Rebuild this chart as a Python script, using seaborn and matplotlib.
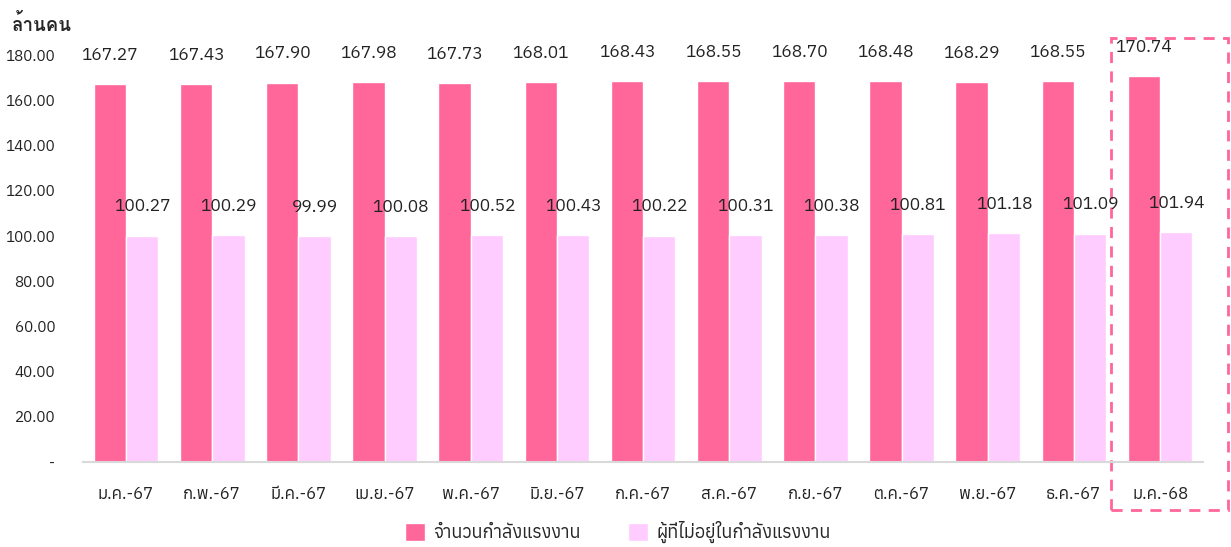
import matplotlib
matplotlib.use("Agg")
import matplotlib.pyplot as plt
import matplotlib.font_manager as fm
from matplotlib.patches import Rectangle, Patch
import pandas as pd
import seaborn as sns

months = ["ม.ค.-67", "ก.พ.-67", "มี.ค.-67", "เม.ย.-67", "พ.ค.-67", "มิ.ย.-67", "ก.ค.-67",
          "ส.ค.-67", "ก.ย.-67", "ต.ค.-67", "พ.ย.-67", "ธ.ค.-67", "ม.ค.-68"]
labour_force = [167.27, 167.43, 167.90, 167.98, 167.73, 168.01, 168.43,
                168.55, 168.70, 168.48, 168.29, 168.55, 170.74]
not_in_labour = [100.27, 100.29, 99.99, 100.08, 100.52, 100.43, 100.22,
                 100.31, 100.38, 100.81, 101.18, 101.09, 101.94]
series_names = ["จำนวนกำลังแรงงาน", "ผู้ที่ไม่อยู่ในกำลังแรงงาน"]
colors = ["#FF6699", "#FFCCFF"]

# look for fonts that have thai glyphs (and a bold one for the title)
thai_fonts = []
thai_bold = []
for f in fm.fontManager.ttflist:
    try:
        font = matplotlib.ft2font.FT2Font(f.fname)
        if 0x0E25 in font.get_charmap():
            thai_fonts.append(f.name)
            w = f.weight if isinstance(f.weight, int) else 400
            if w >= 600:
                thai_bold.append(f.name)
    except Exception:
        pass
thai_fonts = sorted(set(thai_fonts))

sns.set_style("white")
plt.rcParams["font.family"] = thai_fonts[:1] + ["DejaVu Sans"]

data = pd.DataFrame({
    "month": months * 2,
    "value": labour_force + not_in_labour,
    "series": [series_names[0]] * len(months) + [series_names[1]] * len(months),
})

fig = plt.figure(figsize=(12.31, 5.47), dpi=100)
ax = fig.add_axes([0.0674, 0.155, 0.910, 0.744])
sns.barplot(data=data, x="month", y="value", hue="series", palette=colors,
            width=0.75, ax=ax, legend=False, saturation=1)

for cont in ax.containers:
    for bar in cont:
        h = bar.get_height()
        ax.annotate(f"{h:.2f}", (bar.get_x() + bar.get_width() / 2, h),
                    xytext=(0, 21), textcoords="offset points", ha="center",
                    va="center", fontsize=12.5, color="#222222", annotation_clip=False)

ax.set_ylim(0, 180)
ax.set_xlim(-0.5, len(months) - 0.5)
ax.set_yticks(range(0, 181, 20))
ax.set_yticklabels(["-"] + [f"{v:.2f}" for v in range(20, 181, 20)], fontsize=11, color="#222222")
ax.tick_params(axis="y", length=0, pad=20)
ax.set_xticks(range(len(months)))
ax.set_xticklabels(months, fontsize=12, color="#222222")
ax.set_xticks([i - 0.5 for i in range(len(months) + 1)], minor=True)
ax.tick_params(axis="x", which="major", length=0, pad=17)
ax.tick_params(axis="x", which="minor", length=7, color="#D9D9D9", width=1.5)
ax.set_xlabel("")
ax.set_ylabel("")
for s in ["top", "right", "left"]:
    ax.spines[s].set_visible(False)
ax.spines["bottom"].set_color("#D9D9D9")
ax.spines["bottom"].set_linewidth(1.5)

title_family = thai_bold[:1] + thai_fonts[:1] + ["DejaVu Sans"]
fig.text(0.01, 0.955, "ล้านคน", fontsize=13.5, fontweight="bold", ha="left", va="center",
         family=title_family)

ax.add_patch(Rectangle((11.43, -21.2), 1.36, 208.7, fill=False, edgecolor="#FF6699",
                       linestyle=(0, (4, 3)), linewidth=2, clip_on=False))

handles = [Patch(facecolor=c, label=n) for c, n in zip(colors, series_names)]
fig.legend(handles=handles, loc="center", bbox_to_anchor=(0.502, 0.027), ncol=2,
           frameon=False, fontsize=13, handlelength=1.1, handleheight=1.1,
           columnspacing=2.6, handletextpad=0.5)

fig.savefig("out.png", dpi=100)
